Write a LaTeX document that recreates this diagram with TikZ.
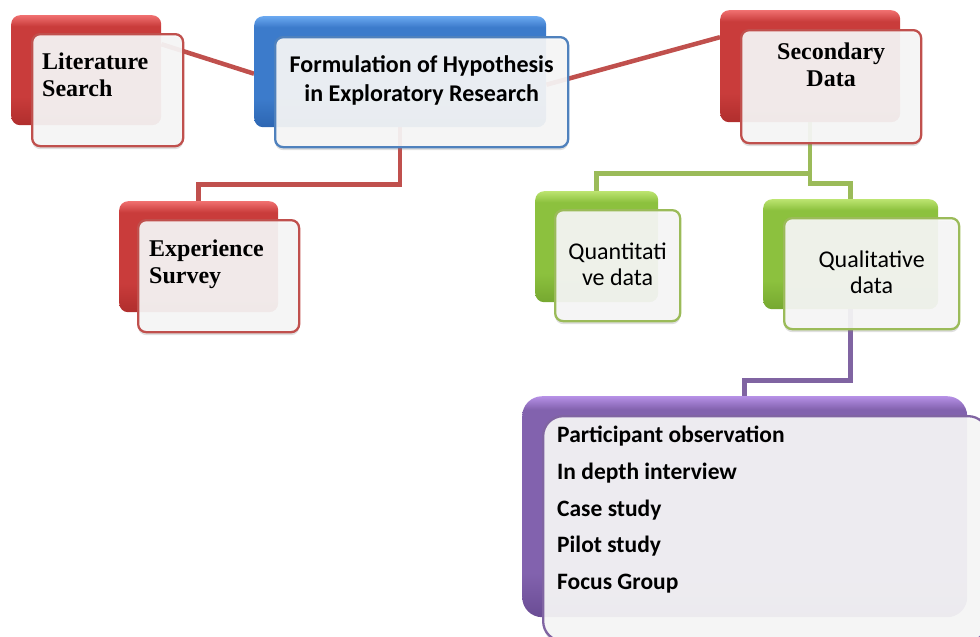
\documentclass[tikz,border=0pt]{standalone}
\usepackage{fontspec}
\setmainfont{Carlito}
\newfontfamily\tnrfont{Liberation Serif}
\usetikzlibrary{positioning,shadows,backgrounds}
\definecolor{redbd}{HTML}{C0504D}
\definecolor{redtop}{HTML}{F07070}
\definecolor{redmid}{HTML}{C93C3B}
\definecolor{redbot}{HTML}{B02E2D}
\definecolor{bluebd}{HTML}{4F81BD}
\definecolor{bluetop}{HTML}{6AA8F0}
\definecolor{bluemid}{HTML}{3C7BCB}
\definecolor{bluebot}{HTML}{2D66B2}
\definecolor{greenbd}{HTML}{9BBB59}
\definecolor{greentop}{HTML}{BCE470}
\definecolor{greenmid}{HTML}{8CC13E}
\definecolor{greenbot}{HTML}{76A830}
\definecolor{purplebd}{HTML}{8064A2}
\definecolor{purpletop}{HTML}{B690E6}
\definecolor{purplemid}{HTML}{8262AE}
\definecolor{purplebot}{HTML}{6A4C94}
\pgfdeclareverticalshading{redshade}{100bp}{color(0bp)=(redbot); color(25bp)=(redbot);
  color(38bp)=(redmid); color(70bp)=(redmid); color(75bp)=(redtop); color(100bp)=(redtop)}
\pgfdeclareverticalshading{blueshade}{100bp}{color(0bp)=(bluebot); color(25bp)=(bluebot);
  color(38bp)=(bluemid); color(70bp)=(bluemid); color(75bp)=(bluetop); color(100bp)=(bluetop)}
\pgfdeclareverticalshading{greenshade}{100bp}{color(0bp)=(greenbot); color(25bp)=(greenbot);
  color(38bp)=(greenmid); color(70bp)=(greenmid); color(75bp)=(greentop); color(100bp)=(greentop)}
\pgfdeclareverticalshading{purpleshade}{100bp}{color(0bp)=(purplebot); color(25bp)=(purplebot);
  color(35bp)=(purplemid); color(72bp)=(purplemid); color(75bp)=(purpletop); color(100bp)=(purpletop)}

\begin{document}
\begin{tikzpicture}[x=1pt,y=-1pt,
    back/.style={rounded corners=9pt,anchor=north west,inner sep=0pt,shade},
    front/.style={draw,rounded corners=8pt,anchor=north west,inner sep=0pt,
      line width=2.3pt,fill=gray!6,fill opacity=.92,
      drop shadow={shadow xshift=0pt,shadow yshift=-3pt,opacity=.25}},
    redback/.style={back,shading=redshade},
    blueback/.style={back,shading=blueshade},
    greenback/.style={back,shading=greenshade},
    purpleback/.style={back,rounded corners=20pt,shading=purpleshade},
    link/.style={line width=4.5pt},
    tnr/.style={inner sep=0pt,font=\tnrfont\bfseries\fontsize{24}{26.5}\selectfont},
    cal/.style={inner sep=0pt,font=\fontsize{24}{26}\selectfont},
    calbf/.style={inner sep=0pt,font=\bfseries\fontsize{24}{29.5}\selectfont}]
    \useasboundingbox (0,0) rectangle (980,637);
    \clip (0,0) rectangle (980,637);
    % back boxes
    \node[redback,minimum width=150,minimum height=110] (litback) at (11,15) {};
    \node[blueback,minimum width=292,minimum height=111] (formback) at (254,16) {};
    \node[redback,minimum width=180,minimum height=112] (secback) at (720,10) {};
    \node[redback,minimum width=159,minimum height=111] (expback) at (119,201) {};
    \node[greenback,minimum width=123,minimum height=111] (quantback) at (535,191) {};
    \node[greenback,minimum width=175,minimum height=110] (qualback) at (763,199) {};
    \node[purpleback,minimum width=445,minimum height=221] (listback) at (522,396) {};
    % front boxes
    \node[front,draw=redbd,minimum width=151,minimum height=112] (lit) at (31,33) {};
    \node[front,draw=bluebd,minimum width=293,minimum height=110] (form) at (274,36) {};
    \node[front,draw=redbd,minimum width=180,minimum height=113] (sec) at (740,29) {};
    \node[front,draw=redbd,minimum width=161,minimum height=112] (exp) at (137,219) {};
    \node[front,draw=greenbd,minimum width=125,minimum height=111] (quant) at (554,209) {};
    \node[front,draw=greenbd,minimum width=175,minimum height=111] (qual) at (783,217) {};
    \node[front,draw=purplebd,rounded corners=20pt,minimum width=445,minimum height=225]
      (list) at (542,415) {};
    % texts
    \node[tnr,align=left,below right=20pt and 11pt of lit.north west] (littext)
      {Literature\\Search};
    \node[calbf,align=center,below=19pt of form.north] (formtext)
      {Formulation of Hypothesis\\in Exploratory Research};
    \node[tnr,align=center,below=14pt of sec.north] (sectext) {Secondary\\Data};
    \node[tnr,align=left,below right=21pt and 12pt of exp.north west] (exptext)
      {Experience\\Survey};
    \node[cal,align=center,below=34pt of quant.north] (quanttext) {Quantitati\\ve data};
    \node[cal,align=center,below=34pt of qual.north] (qualtext) {Qualitative\\data};
    \node[calbf,font=\bfseries\fontsize{23.5}{36.7}\selectfont,align=left,
      below right=11pt and 15pt of list.north west] (listtext)
      {Participant observation\\In depth interview\\Case study\\Pilot study\\Focus Group};
    % connectors
    \begin{pgfonlayer}{background}
      \draw[link,redbd] ([yshift=26pt]litback.east) -- ([yshift=-2pt]formback.west);
      \draw[link,redbd] ([yshift=-13pt]formback.east) -- ([yshift=29pt]secback.west);
      \draw[link,redbd] (formback.south) -- ++(0,57) -| (expback.north);
      \draw[link,greenbd] (secback.south) -- ++(0,51) -| (quantback.north);
      \draw[link,greenbd] (secback.south) -- ++(0,61) -| (qualback.north);
      \draw[link,purplebd] (qualback.south) -- ++(0,71) -| (listback.north);
    \end{pgfonlayer}
  \end{tikzpicture}
\end{document}
